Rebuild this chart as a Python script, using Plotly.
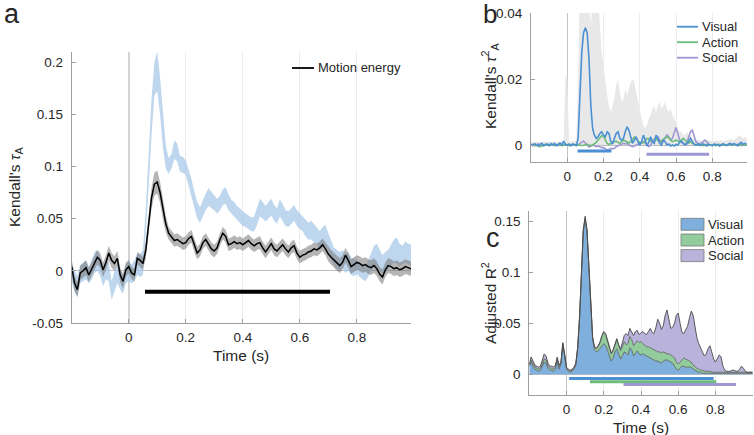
import plotly.graph_objects as go

# sampling grid (s)
time_s = [round(-0.2 + 0.01 * i, 2) for i in range(121)]

# ---- panel a: motion energy (mean, sem) and video-level band ----
motion_mean = [
    0.004, -0.012, -0.018, -0.002, 0.000, 0.003, -0.004, 0.002, 0.008, 0.013,
    0.010, 0.001, 0.008, 0.017, 0.010, 0.007, 0.012, -0.004, -0.010, 0.001,
    0.004, -0.002, -0.004, 0.012, 0.010, 0.007, 0.020, 0.045, 0.070, 0.083,
    0.085, 0.075, 0.058, 0.045, 0.036, 0.032, 0.029, 0.030, 0.028, 0.026,
    0.027, 0.031, 0.033, 0.024, 0.017, 0.020, 0.027, 0.030, 0.026, 0.021,
    0.019, 0.022, 0.030, 0.036, 0.033, 0.025, 0.026, 0.028, 0.026, 0.027,
    0.025, 0.027, 0.029, 0.026, 0.024, 0.026, 0.027, 0.022, 0.018, 0.022,
    0.026, 0.021, 0.019, 0.022, 0.025, 0.021, 0.018, 0.022, 0.024, 0.017,
    0.013, 0.015, 0.016, 0.018, 0.019, 0.021, 0.020, 0.022, 0.025, 0.021,
    0.016, 0.013, 0.010, 0.007, 0.005, 0.008, 0.015, 0.010, 0.004, 0.006,
    0.008, 0.007, 0.005, 0.006, 0.004, 0.003, 0.005, 0.002, -0.003, -0.006,
    0.001, 0.005, 0.004, 0.002, 0.003, 0.001, 0.002, 0.004, 0.003, 0.002,
    0.002]
motion_sem = (
    [0.007] * 20 + [0.006] * 6
    + [0.008, 0.009, 0.010, 0.011, 0.011, 0.010, 0.009, 0.008]
    + [0.006] * 56 + [0.007] * 31)
blue_lo = [
    -0.010, -0.020, -0.025, -0.012, -0.010, -0.008, -0.012, -0.008, -0.002, 0.000,
    -0.005, -0.015, -0.008, -0.010, -0.028, -0.020, -0.012, -0.018, -0.022, -0.012,
    -0.010, -0.012, -0.010, -0.004, -0.006, -0.004, 0.035, 0.080, 0.130, 0.168,
    0.172, 0.150, 0.118, 0.098, 0.093, 0.098, 0.107, 0.105, 0.095, 0.094,
    0.092, 0.082, 0.072, 0.060, 0.050, 0.046, 0.052, 0.058, 0.062, 0.060,
    0.058, 0.055, 0.058, 0.063, 0.064, 0.058, 0.054, 0.052, 0.048, 0.046,
    0.043, 0.042, 0.040, 0.038, 0.038, 0.044, 0.052, 0.050, 0.047, 0.050,
    0.053, 0.048, 0.045, 0.052, 0.048, 0.043, 0.042, 0.045, 0.048, 0.043,
    0.040, 0.038, 0.033, 0.030, 0.030, 0.028, 0.025, 0.020, 0.022, 0.024,
    0.018, 0.010, 0.005, 0.002, 0.000, 0.003, -0.002, 0.000, -0.004, -0.005,
    -0.003, -0.006, -0.008, -0.010, -0.006, 0.000, 0.004, 0.003, 0.000, -0.003,
    -0.002, 0.002, 0.005, 0.008, 0.007, 0.004, 0.006, 0.008, 0.006, 0.005,
    0.005]
blue_hi = [
    0.008, 0.000, -0.005, 0.005, 0.008, 0.010, 0.004, 0.010, 0.018, 0.020,
    0.012, 0.002, 0.010, 0.008, -0.010, 0.000, 0.006, 0.000, -0.004, 0.006,
    0.010, 0.006, 0.010, 0.016, 0.016, 0.020, 0.060, 0.110, 0.165, 0.200,
    0.210, 0.185, 0.150, 0.120, 0.108, 0.112, 0.125, 0.122, 0.110, 0.109,
    0.106, 0.098, 0.088, 0.076, 0.066, 0.061, 0.068, 0.074, 0.079, 0.076,
    0.072, 0.069, 0.072, 0.078, 0.080, 0.073, 0.068, 0.066, 0.062, 0.060,
    0.057, 0.055, 0.053, 0.051, 0.052, 0.060, 0.069, 0.066, 0.062, 0.066,
    0.069, 0.063, 0.060, 0.068, 0.064, 0.058, 0.057, 0.060, 0.063, 0.058,
    0.055, 0.053, 0.050, 0.046, 0.048, 0.045, 0.042, 0.038, 0.042, 0.044,
    0.036, 0.028, 0.022, 0.020, 0.018, 0.020, 0.016, 0.018, 0.012, 0.012,
    0.010, 0.008, 0.006, 0.004, 0.010, 0.018, 0.024, 0.026, 0.020, 0.015,
    0.018, 0.020, 0.025, 0.030, 0.032, 0.026, 0.024, 0.028, 0.026, 0.025,
    0.025]
motion_sig = (0.057, 0.706)

# ---- panel b: unique tau^2 per model and ceiling ----
tau_visual = [
    0.0003, -0.0002, 0.0004, 0.0000, -0.0003, 0.0002, 0.0005, -0.0002, 0.0000, 0.0003,
    -0.0002, 0.0004, 0.0000, 0.0005, -0.0002, 0.0003, 0.0006, 0.0000, 0.0012, 0.0002,
    0.0000, 0.0003, -0.0002, 0.0003, 0.0000, -0.0002, 0.0020, 0.0140, 0.0280, 0.0340,
    0.0355, 0.0340, 0.0260, 0.0120, 0.0050, 0.0030, 0.0020, 0.0025, 0.0035, 0.0040,
    0.0030, 0.0025, 0.0040, 0.0035, 0.0010, 0.0005, 0.0020, 0.0035, 0.0040, 0.0020,
    0.0015, 0.0020, 0.0040, 0.0055, 0.0045, 0.0020, 0.0005, 0.0015, 0.0025, 0.0010,
    0.0000, 0.0010, 0.0030, 0.0015, -0.0003, 0.0010, 0.0025, 0.0010, 0.0005, 0.0030,
    0.0020, 0.0005, 0.0000, 0.0015, 0.0010, 0.0000, 0.0003, -0.0003, 0.0000, -0.0003,
    0.0002, 0.0000, 0.0008, 0.0012, 0.0005, 0.0000, 0.0003, 0.0010, 0.0020, 0.0010,
    0.0002, 0.0000, 0.0003, -0.0002, 0.0000, 0.0003, 0.0000, -0.0003, 0.0002, 0.0000,
    -0.0002, 0.0003, 0.0000, 0.0002, -0.0003, 0.0000, 0.0004, 0.0000, -0.0002, 0.0003,
    0.0005, 0.0000, 0.0004, 0.0002, -0.0002, 0.0004, 0.0008, 0.0002, 0.0005, 0.0003,
    0.0003]
tau_action = [
    0.0000, 0.0002, -0.0002, 0.0000, -0.0004, -0.0005, -0.0003, 0.0000, 0.0002, 0.0000,
    -0.0002, 0.0000, 0.0002, -0.0002, 0.0000, 0.0002, 0.0000, -0.0002, 0.0000, 0.0002,
    0.0000, -0.0002, 0.0000, 0.0002, 0.0000, 0.0000, 0.0002, 0.0000, -0.0002, 0.0000,
    0.0000, 0.0002, 0.0000, -0.0002, 0.0000, 0.0003, 0.0008, 0.0015, 0.0022, 0.0028,
    0.0026, 0.0015, 0.0005, 0.0002, 0.0003, 0.0006, 0.0010, 0.0012, 0.0008, 0.0005,
    0.0010, 0.0015, 0.0012, 0.0008, 0.0006, 0.0010, 0.0018, 0.0024, 0.0020, 0.0012,
    0.0008, 0.0005, 0.0008, 0.0015, 0.0020, 0.0018, 0.0012, 0.0010, 0.0012, 0.0018,
    0.0015, 0.0010, 0.0012, 0.0018, 0.0022, 0.0024, 0.0022, 0.0015, 0.0010, 0.0012,
    0.0015, 0.0012, 0.0010, 0.0015, 0.0020, 0.0015, 0.0008, 0.0006, 0.0010, 0.0006,
    0.0002, 0.0000, 0.0000, 0.0002, 0.0000, -0.0002, 0.0000, 0.0002, 0.0000, 0.0000,
    0.0002, 0.0000, -0.0002, 0.0000, 0.0002, 0.0000, 0.0000, -0.0002, 0.0000, 0.0002,
    0.0000, 0.0000, 0.0002, 0.0000, -0.0002, 0.0000, 0.0002, 0.0000, 0.0000, 0.0002,
    0.0000]
tau_social = [
    0.0002, 0.0000, -0.0002, 0.0000, 0.0003, 0.0000, -0.0002, 0.0000, 0.0002, 0.0000,
    0.0000, -0.0002, 0.0000, 0.0002, 0.0000, -0.0002, 0.0000, 0.0002, 0.0000, 0.0000,
    0.0002, 0.0000, -0.0002, 0.0000, 0.0002, 0.0000, 0.0000, 0.0005, 0.0010, 0.0012,
    0.0006, -0.0002, -0.0006, -0.0004, 0.0000, -0.0002, -0.0005, -0.0003, -0.0006, -0.0008,
    -0.0008, -0.0012, -0.0015, -0.0014, -0.0010, -0.0012, -0.0010, -0.0005, -0.0002, 0.0000,
    0.0002, 0.0005, 0.0003, 0.0005, 0.0000, -0.0003, -0.0005, -0.0003, 0.0000, 0.0002,
    0.0005, 0.0008, 0.0010, 0.0006, 0.0000, -0.0005, 0.0000, 0.0012, 0.0018, 0.0022,
    0.0025, 0.0015, 0.0008, 0.0012, 0.0022, 0.0030, 0.0025, 0.0015, 0.0020, 0.0040,
    0.0053, 0.0035, 0.0015, 0.0008, 0.0003, 0.0000, 0.0008, 0.0025, 0.0040, 0.0045,
    0.0030, 0.0010, 0.0005, 0.0003, 0.0006, 0.0010, 0.0015, 0.0010, 0.0003, 0.0000,
    -0.0002, 0.0000, 0.0002, 0.0000, -0.0002, 0.0000, 0.0002, 0.0000, 0.0000, -0.0002,
    0.0000, 0.0002, 0.0000, 0.0000, 0.0002, 0.0000, -0.0002, 0.0000, 0.0002, 0.0000,
    0.0000]
tau_ceiling = [
    0.0010, 0.0010, 0.0012, 0.0010, 0.0010, 0.0012, 0.0010, 0.0010, 0.0012, 0.0010,
    0.0010, 0.0012, 0.0010, 0.0010, 0.0012, 0.0010, 0.0010, 0.0012, 0.0010, 0.0210,
    0.0210, 0.0010, 0.0010, 0.0010, 0.0012, 0.0015, 0.0200, 0.0500, 0.0500, 0.0500,
    0.0500, 0.0500, 0.0450, 0.0360, 0.0450, 0.0500, 0.0500, 0.0450, 0.0350, 0.0280,
    0.0240, 0.0190, 0.0150, 0.0120, 0.0100, 0.0120, 0.0140, 0.0180, 0.0200, 0.0160,
    0.0130, 0.0140, 0.0170, 0.0150, 0.0170, 0.0190, 0.0200, 0.0190, 0.0160, 0.0130,
    0.0110, 0.0080, 0.0060, 0.0050, 0.0060, 0.0080, 0.0090, 0.0110, 0.0120, 0.0100,
    0.0120, 0.0130, 0.0110, 0.0120, 0.0130, 0.0110, 0.0100, 0.0110, 0.0090, 0.0080,
    0.0070, 0.0050, 0.0040, 0.0040, 0.0030, 0.0030, 0.0040, 0.0030, 0.0030, 0.0020,
    0.0020, 0.0015, 0.0015, 0.0015, 0.0012, 0.0015, 0.0015, 0.0012, 0.0015, 0.0012,
    0.0012, 0.0012, 0.0015, 0.0012, 0.0012, 0.0015, 0.0012, 0.0012, 0.0015, 0.0015,
    0.0020, 0.0015, 0.0015, 0.0020, 0.0025, 0.0030, 0.0025, 0.0020, 0.0025, 0.0020,
    0.0020]
tau_sig = {"Visual": (0.057, 0.244), "Social": (0.437, 0.782)}

# ---- panel c: stacked adjusted R^2 (cumulative tops) ----
r2_visual = [
    0.008, 0.012, 0.008, 0.005, 0.004, 0.003, 0.004, 0.008, 0.012, 0.011,
    0.006, 0.004, 0.004, 0.003, 0.005, 0.013, 0.005, 0.010, 0.029, 0.018,
    0.005, 0.003, 0.002, 0.003, 0.005, 0.009, 0.025, 0.055, 0.100, 0.140,
    0.152, 0.140, 0.105, 0.065, 0.035, 0.024, 0.022, 0.023, 0.025, 0.028,
    0.030, 0.028, 0.024, 0.018, 0.013, 0.016, 0.022, 0.025, 0.020, 0.015,
    0.018, 0.022, 0.021, 0.019, 0.026, 0.024, 0.018, 0.021, 0.023, 0.020,
    0.019, 0.020, 0.019, 0.018, 0.017, 0.016, 0.015, 0.014, 0.013, 0.013,
    0.012, 0.011, 0.013, 0.014, 0.014, 0.013, 0.012, 0.011, 0.008, 0.005,
    0.004, 0.006, 0.008, 0.008, 0.007, 0.007, 0.007, 0.007, 0.005, 0.004,
    0.003, 0.002, 0.002, 0.001, 0.001, 0.001, 0.001, 0.001, 0.001, 0.001,
    0.001, 0.001, 0.001, 0.001, 0.001, 0.001, 0.001, 0.001, 0.001, 0.001,
    0.001, 0.001, 0.001, 0.001, 0.001, 0.001, 0.001, 0.001, 0.001, 0.001,
    0.001]
r2_visual_action = [
    0.009, 0.014, 0.010, 0.007, 0.006, 0.005, 0.006, 0.010, 0.015, 0.014,
    0.008, 0.006, 0.006, 0.005, 0.007, 0.015, 0.007, 0.011, 0.030, 0.019,
    0.006, 0.004, 0.003, 0.004, 0.006, 0.010, 0.026, 0.056, 0.101, 0.141,
    0.153, 0.141, 0.106, 0.066, 0.036, 0.026, 0.025, 0.027, 0.031, 0.037,
    0.041, 0.039, 0.032, 0.025, 0.020, 0.023, 0.029, 0.034, 0.028, 0.023,
    0.027, 0.032, 0.029, 0.030, 0.037, 0.034, 0.028, 0.031, 0.033, 0.031,
    0.032, 0.030, 0.028, 0.027, 0.027, 0.026, 0.025, 0.024, 0.023, 0.022,
    0.022, 0.021, 0.022, 0.021, 0.020, 0.020, 0.019, 0.018, 0.016, 0.012,
    0.010, 0.012, 0.015, 0.016, 0.015, 0.014, 0.013, 0.012, 0.009, 0.007,
    0.006, 0.005, 0.004, 0.004, 0.003, 0.003, 0.003, 0.003, 0.002, 0.002,
    0.002, 0.002, 0.002, 0.002, 0.002, 0.002, 0.002, 0.002, 0.002, 0.002,
    0.002, 0.002, 0.002, 0.002, 0.002, 0.002, 0.002, 0.002, 0.002, 0.002,
    0.002]
r2_full = [
    0.010, 0.017, 0.013, 0.009, 0.008, 0.007, 0.008, 0.013, 0.020, 0.018,
    0.011, 0.008, 0.008, 0.007, 0.009, 0.017, 0.009, 0.012, 0.031, 0.020,
    0.007, 0.005, 0.004, 0.005, 0.007, 0.011, 0.027, 0.057, 0.102, 0.142,
    0.155, 0.142, 0.107, 0.067, 0.037, 0.027, 0.026, 0.028, 0.032, 0.038,
    0.042, 0.040, 0.033, 0.026, 0.021, 0.024, 0.030, 0.035, 0.029, 0.025,
    0.031, 0.038, 0.040, 0.038, 0.045, 0.042, 0.038, 0.042, 0.043, 0.039,
    0.041, 0.042, 0.040, 0.039, 0.042, 0.045, 0.041, 0.040, 0.046, 0.054,
    0.050, 0.044, 0.048, 0.058, 0.063, 0.052, 0.045, 0.046, 0.050, 0.058,
    0.060, 0.050, 0.041, 0.040, 0.044, 0.047, 0.055, 0.062, 0.058, 0.045,
    0.036, 0.030, 0.025, 0.022, 0.018, 0.020, 0.025, 0.028, 0.022, 0.015,
    0.012, 0.015, 0.019, 0.017, 0.008, 0.004, 0.003, 0.003, 0.003, 0.004,
    0.004, 0.003, 0.003, 0.005, 0.008, 0.006, 0.003, 0.002, 0.002, 0.002,
    0.002]
r2_sig = {"Visual": (0.014, 0.790), "Action": (0.126, 0.805), "Social": (0.306, 0.910)}

x_ticks = [0, 0.2, 0.4, 0.6, 0.8]
x_ticktext = ["0", "0.2", "0.4", "0.6", "0.8"]
ya_ticks = [-0.05, 0, 0.05, 0.1, 0.15, 0.2]
ya_ticktext = ["-0.05", "0", "0.05", "0.1", "0.15", "0.2"]
yb_ticks = [0, 0.02, 0.04]
yb_ticktext = ["0", "0.02", "0.04"]
yc_ticks = [0, 0.05, 0.1, 0.15]
yc_ticktext = ["0", "0.05", "0.1", "0.15"]

FONT = "Liberation Sans, Arial, Helvetica, sans-serif"
TXT = "#262626"
AXC = "#9e9e9e"
C_VIS = "#4a90d2"
C_ACT = "#6cbd7b"
C_SOC = "#9d97d3"
F_VIS = "#7fb0dd"
F_ACT = "#92cc9c"
F_SOC = "#b9b3dc"
EDGE = "#5a5a5a"

W, H = 754, 435


def px(x):
    return x / W


def py(y):
    return 1 - y / H


def band(lo, hi, color, xa, ya):
    return go.Scatter(x=time_s + time_s[::-1], y=list(hi) + list(lo)[::-1],
                      fill="toself", fillcolor=color, mode="lines",
                      line=dict(width=0), hoverinfo="skip", showlegend=False,
                      xaxis=xa, yaxis=ya)


def sig_bar(win, level, color, xa, ya, width=3):
    return go.Scatter(x=list(win), y=[level, level], mode="lines",
                      line=dict(color=color, width=width), showlegend=False,
                      hoverinfo="skip", xaxis=xa, yaxis=ya)


fig = go.Figure()

# panel a
motion_lo = [m - s for m, s in zip(motion_mean, motion_sem)]
motion_hi = [m + s for m, s in zip(motion_mean, motion_sem)]
fig.add_trace(band(blue_lo, blue_hi, "rgba(165,198,231,0.72)", "x", "y"))
fig.add_trace(band(motion_lo, motion_hi, "rgba(120,120,120,0.55)", "x", "y"))
fig.add_trace(go.Scatter(x=time_s, y=motion_mean, mode="lines", name="Motion energy",
                         line=dict(color="black", width=1.5), showlegend=False,
                         xaxis="x", yaxis="y"))
fig.add_trace(sig_bar(motion_sig, -0.02, "black", "x", "y", width=4))

# panel b
fig.add_trace(go.Scatter(x=time_s, y=tau_ceiling, mode="lines", fill="tozeroy",
                         fillcolor="#e8e8e8", line=dict(width=0), showlegend=False,
                         hoverinfo="skip", xaxis="x2", yaxis="y2"))
for name, vals, col in [("Social", tau_social, C_SOC), ("Action", tau_action, C_ACT),
                        ("Visual", tau_visual, C_VIS)]:
    fig.add_trace(go.Scatter(x=time_s, y=vals, mode="lines", name=name, showlegend=False,
                             line=dict(color=col, width=1.6), xaxis="x2", yaxis="y2"))
fig.add_trace(sig_bar(tau_sig["Visual"], -0.0018, C_VIS, "x2", "y2"))
fig.add_trace(sig_bar(tau_sig["Social"], -0.0028, C_SOC, "x2", "y2"))

# panel c
fig.add_trace(go.Scatter(x=time_s, y=r2_visual, mode="lines", name="Visual", fill="tozeroy",
                         fillcolor=F_VIS, line=dict(color=EDGE, width=0.8),
                         showlegend=False, xaxis="x3", yaxis="y3"))
fig.add_trace(go.Scatter(x=time_s, y=r2_visual_action, mode="lines", name="Action", fill="tonexty",
                         fillcolor=F_ACT, line=dict(color=EDGE, width=0.8),
                         showlegend=False, xaxis="x3", yaxis="y3"))
fig.add_trace(go.Scatter(x=time_s, y=r2_full, mode="lines", name="Social", fill="tonexty",
                         fillcolor=F_SOC, line=dict(color="#4a4a4a", width=0.9),
                         showlegend=False, xaxis="x3", yaxis="y3"))
fig.add_trace(sig_bar(r2_sig["Visual"], -0.0040, C_VIS, "x3", "y3"))
fig.add_trace(sig_bar(r2_sig["Action"], -0.0072, C_ACT, "x3", "y3"))
fig.add_trace(sig_bar(r2_sig["Social"], -0.0100, C_SOC, "x3", "y3"))


def xaxis(domain, rng, anchor, zcol, zw):
    return dict(domain=domain, range=rng, anchor=anchor, showline=True, linecolor=AXC,
                linewidth=1, ticks="inside", ticklen=4, tickcolor=AXC, automargin=False,
                tickvals=x_ticks, ticktext=x_ticktext, ticklabelstandoff=2,
                tickfont=dict(family=FONT, size=13.5, color=TXT),
                showgrid=True, gridcolor="#ececec", gridwidth=1,
                zeroline=True, zerolinecolor=zcol, zerolinewidth=zw, fixedrange=True)


def yaxis(domain, rng, anchor, tv, tt):
    return dict(domain=domain, range=rng, anchor=anchor, showline=True, linecolor=AXC,
                linewidth=1, ticks="inside", ticklen=4, tickcolor=AXC, automargin=False,
                tickvals=tv, ticktext=tt, ticklabelstandoff=5,
                tickfont=dict(family=FONT, size=13.5, color=TXT),
                showgrid=False, zeroline=True, zerolinecolor="#bdbdbd", zerolinewidth=1,
                fixedrange=True)


fig.update_layout(
    width=W, height=H, margin=dict(l=0, r=0, t=0, b=0, autoexpand=False),
    paper_bgcolor="white", plot_bgcolor="white", hovermode=False, showlegend=False,
    font=dict(family=FONT, color=TXT),
    xaxis=xaxis([px(71.7), px(411)], [-0.2, 0.99], "y", "#d4d4d4", 2),
    yaxis=yaxis([py(323), py(51.6)], [-0.05, 0.21], "x", ya_ticks, ya_ticktext),
    xaxis2=xaxis([px(531), px(746.7)], [-0.2, 0.99], "y2", "#c4c4c4", 1),
    yaxis2=yaxis([py(161.5), py(13)], [-0.005, 0.04], "x2", yb_ticks, yb_ticktext),
    xaxis3=xaxis([px(529.3), px(752.7)], [-0.2, 1.0], "y3", "#c4c4c4", 1),
    yaxis3=yaxis([py(394.7), py(211.1)], [-0.02, 0.16], "x3", yc_ticks, yc_ticktext),
)

# legends drawn as keys + labels (paper coordinates)
line_keys = [
    ("Motion energy", "black", 292, 314, 68),
    ("Visual", C_VIS, 677, 698, 26.7),
    ("Action", C_ACT, 677, 698, 42.2),
    ("Social", C_SOC, 677, 698, 57.7),
]
for label, col, x0, x1, yc in line_keys:
    fig.add_shape(type="line", xref="paper", yref="paper", x0=px(x0), x1=px(x1),
                  y0=py(yc), y1=py(yc), line=dict(color=col, width=1.8))
    fig.add_annotation(text=label, x=px(x1 + 2), y=py(yc), xref="paper", yref="paper",
                       xanchor="left", yanchor="middle", showarrow=False,
                       font=dict(family=FONT, size=13, color=TXT))
box_keys = [("Visual", F_VIS, 224.3), ("Action", F_ACT, 240), ("Social", F_SOC, 255.6)]
for label, col, yc in box_keys:
    fig.add_shape(type="rect", xref="paper", yref="paper", x0=px(681), x1=px(704),
                  y0=py(yc + 6), y1=py(yc - 6), fillcolor=col, line=dict(color="#7a7a7a", width=0.8))
    fig.add_annotation(text=label, x=px(706), y=py(yc), xref="paper", yref="paper",
                       xanchor="left", yanchor="middle", showarrow=False,
                       font=dict(family=FONT, size=13, color=TXT))

annotations = [
    ("a", 12, 14, 27, 0), ("b", 490, 14, 26, 0), ("c", 493, 238, 27, 0),
    ("Kendall's <i>τ</i><sub>A</sub>", 15, 187, 15.5, -90),
    ("Kendall's <i>τ</i><sup>2</sup><sub>A</sub>", 490, 86, 15.5, -90),
    ("Adjusted R<sup>2</sup>", 489, 303, 15.5, -90),
    ("Time (s)", 241, 355, 15.5, 0),
    ("Time (s)", 641, 427, 15.5, 0),
]
for text, x, y, size, ang in annotations:
    fig.add_annotation(text=text, x=px(x), y=py(y), xref="paper", yref="paper",
                       xanchor="center", yanchor="middle", showarrow=False, textangle=ang,
                       font=dict(family=FONT, size=size, color=TXT))

fig.write_html("out.html", config={"displayModeBar": False},
               post_script="document.body.style.margin='0';")
